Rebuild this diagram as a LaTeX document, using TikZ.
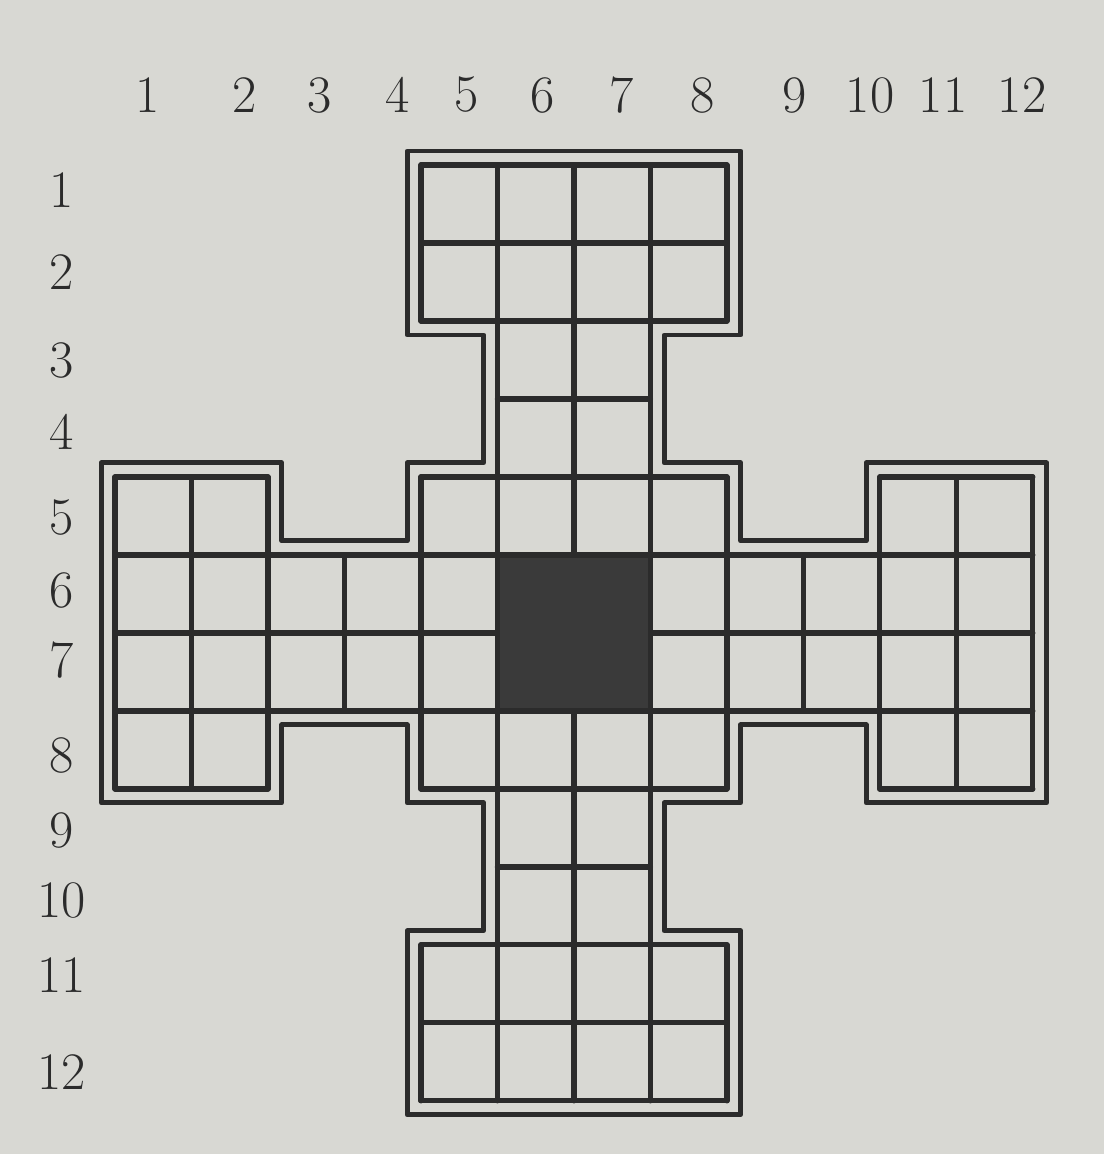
\documentclass[tikz,border=0pt]{standalone}
\newcommand\cellblock[4]{% x1 y1 x2 y2
  \foreach \i in {#1,...,#3} \draw[gridline] (\i,#2) -- (\i,#4);
  \foreach \j in {#2,...,#4} \draw[gridline] (#1,\j) -- (#3,\j);}
\begin{document}
\begin{tikzpicture}[x=0.02cm,y=-0.02cm]
\definecolor{paper}{HTML}{D8D8D3}
\definecolor{ink}{HTML}{2B2B2B}
\definecolor{dark}{HTML}{3A3A3A}
\tikzset{gridline/.style={draw=ink,line width=3pt,line cap=round,line join=round},
  outline/.style={draw=ink,line width=2.8pt,line join=round},
  lab/.style={text=ink,font=\fontsize{30}{30}\selectfont,inner sep=0pt}}
\fill[paper] (0,0) rectangle (1104,1154);
\useasboundingbox (0,0) rectangle (1104,1154);
% column labels
\foreach \n/\x in {1/148,2/245,3/320,4/398,5/467,6/543,7/622,8/703,9/795,10/870,11/943,12/1022}
  \node[lab] (c\n) at (\x,95) {\n};
% row labels
\foreach \n/\y in {1/190,2/272,3/360,4/432,5/518,6/590,7/660,8/755,9/830,10/900,11/975,12/1072}
  \node[lab] (r\n) at (62,\y) {\n};
\begin{scope}[shift={(115,165)},x=1.53cm,y=-1.56cm]
% grid cells
\cellblock{4}{0}{8}{2}
\cellblock{5}{2}{7}{4}
\cellblock{0}{4}{2}{8}
\cellblock{2}{5}{4}{7}
\cellblock{4}{4}{8}{8}
\cellblock{8}{5}{10}{7}
\cellblock{10}{4}{12}{8}
\cellblock{5}{8}{7}{10}
\cellblock{4}{10}{8}{12}
% dark centre
\fill[dark] (5,5) rectangle (7,7);
\draw[gridline] (5,5) rectangle (7,7);
% outer line of double border
\def\d{0.18}
\draw[outline] (4-\d,0-\d) -- (8+\d,0-\d) -- (8+\d,2+\d) -- (7+\d,2+\d) -- (7+\d,4-\d)
  -- (8+\d,4-\d) -- (8+\d,5-\d) -- (10-\d,5-\d) -- (10-\d,4-\d) -- (12+\d,4-\d)
  -- (12+\d,8+\d) -- (10-\d,8+\d) -- (10-\d,7+\d) -- (8+\d,7+\d) -- (8+\d,8+\d)
  -- (7+\d,8+\d) -- (7+\d,10-\d) -- (8+\d,10-\d) -- (8+\d,12+\d) -- (4-\d,12+\d)
  -- (4-\d,10-\d) -- (5-\d,10-\d) -- (5-\d,8+\d) -- (4-\d,8+\d) -- (4-\d,7+\d)
  -- (2+\d,7+\d) -- (2+\d,8+\d) -- (0-\d,8+\d) -- (0-\d,4-\d) -- (2+\d,4-\d)
  -- (2+\d,5-\d) -- (4-\d,5-\d) -- (4-\d,4-\d) -- (5-\d,4-\d) -- (5-\d,2+\d)
  -- (4-\d,2+\d) -- cycle;
\end{scope}
\end{tikzpicture}
\end{document}
